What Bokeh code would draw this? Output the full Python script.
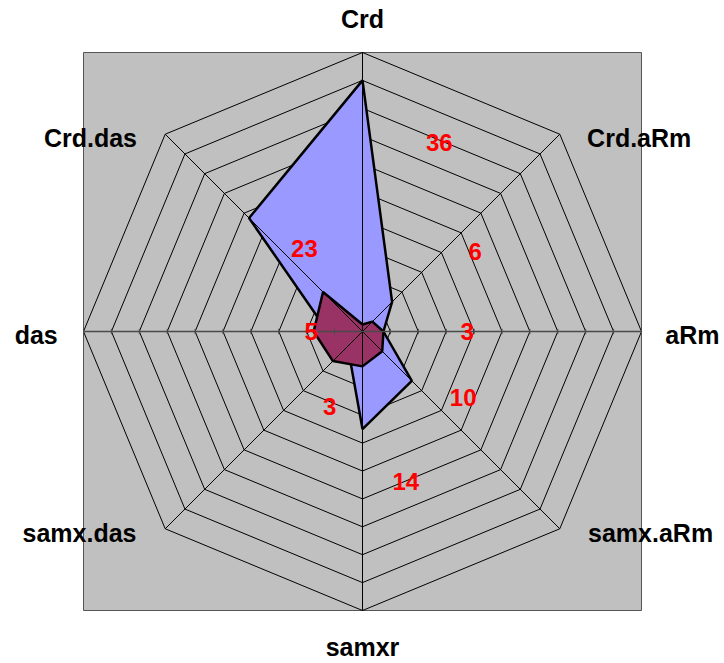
import numpy as np
from bokeh.plotting import figure
from bokeh.models import Range1d
from bokeh.core.properties import value
from bokeh.embed import file_html
from bokeh.resources import INLINE

# ---- data ----
categories = ["Crd", "Crd.aRm", "aRm", "samx.aRm", "samxr", "samx.das", "das", "Crd.das"]
series_blue = [36, 6, 3, 10, 14, 3, 5, 23]
series_maroon = [1, 2, 3, 4, 5, 6, 7, 8]
axis_max = 40
ring_step = 4
value_labels = [str(v) for v in series_blue]

# ---- layout constants (data units, text centres) ----
cat_label_pos = [(0.0, 44.83), (39.67, 27.74), (47.3, -0.57), (41.3, -28.92),
                 (0.0, -45.3), (-40.57, -28.92), (-46.78, -0.57), (-39.0, 27.74)]
val_label_pos = [(11.0, 27.08), (16.16, 11.41), (15.01, -0.06), (14.44, -9.52),
                 (6.21, -21.46), (-4.69, -10.81), (-7.35, -0.06), (-8.32, 11.89)]

W, H = 724, 663
px_per_unit = 279.0 / axis_max
cx, cy = 362.0, 331.0

p = figure(width=W, height=H, output_backend="svg", toolbar_location=None,
           x_range=Range1d(-cx / px_per_unit, (W - cx) / px_per_unit),
           y_range=Range1d(-(H - cy) / px_per_unit, cy / px_per_unit),
           min_border=0)
p.axis.visible = False
p.grid.visible = False
p.outline_line_color = None
p.background_fill_color = "white"

n = len(categories)
angles = np.pi / 2 - np.arange(n) * 2 * np.pi / n

def poly(vals):
    v = np.asarray(vals, dtype=float)
    return list(v * np.cos(angles)), list(v * np.sin(angles))

# plot area square
p.quad(left=-axis_max, right=axis_max, bottom=-axis_max, top=axis_max,
       fill_color="#C0C0C0", line_color="#555555", line_width=1)

# rings
rings = list(range(ring_step, axis_max + 1, ring_step))
ring_xs, ring_ys = [], []
for r in rings:
    xs, ys = poly([r] * n)
    ring_xs.append(xs + [xs[0]])
    ring_ys.append(ys + [ys[0]])
p.multi_line(ring_xs, ring_ys, line_color="black", line_width=1)

# series
bx, by = poly(series_blue)
p.patch(bx, by, fill_color="#9999FF", line_color="black", line_width=2.5)
mx, my = poly(series_maroon)
p.patch(mx, my, fill_color="#993366", line_color="black", line_width=2.5)

# spokes
ex, ey = poly([axis_max] * n)
sp_black = [i for i in range(n) if i not in (2, 6)]
p.segment(x0=[0] * len(sp_black), y0=[0] * len(sp_black),
          x1=[ex[i] for i in sp_black], y1=[ey[i] for i in sp_black],
          line_color="black", line_width=1)
# horizontal value axis (gray) with ticks
p.segment(x0=[-axis_max], y0=[0], x1=[axis_max], y1=[0],
          line_color="#4a4a4a", line_width=1.5)
tick_x = [s * r for r in rings for s in (-1, 1)]
tick_h = 2.7 / px_per_unit
p.segment(x0=tick_x, y0=[-tick_h] * len(tick_x), x1=tick_x, y1=[tick_h] * len(tick_x),
          line_color="#4a4a4a", line_width=1)

# category labels
p.text(x=[c[0] for c in cat_label_pos], y=[c[1] for c in cat_label_pos], text=categories,
       text_font=value("Liberation Sans"), text_font_style="bold", text_font_size="25px",
       text_color="black", text_align="center", text_baseline="middle")

# value labels
p.text(x=[c[0] for c in val_label_pos], y=[c[1] for c in val_label_pos], text=value_labels,
       text_font=value("Liberation Sans"), text_font_style="bold", text_font_size="24px",
       text_color="#FF0000", text_align="center", text_baseline="middle")

open("out.html", "w").write(file_html(p, INLINE))
